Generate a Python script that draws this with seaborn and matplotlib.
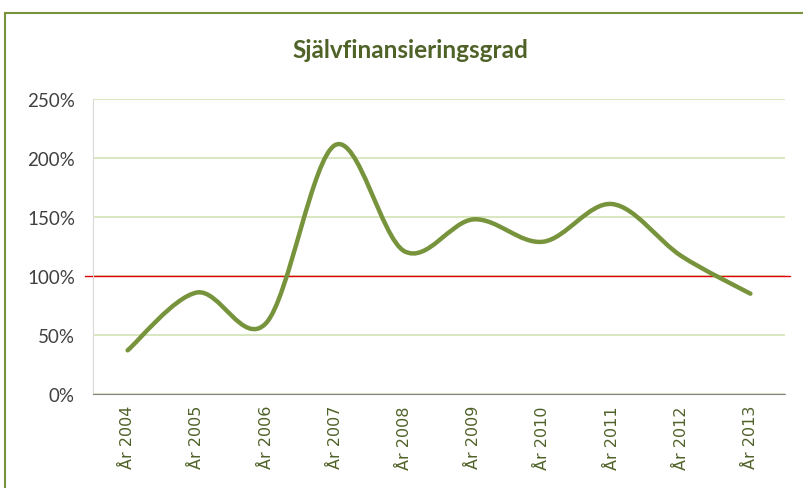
import numpy as np
import matplotlib
matplotlib.use("Agg")
import matplotlib.pyplot as plt
import seaborn as sns
from matplotlib.path import Path
from matplotlib.patches import PathPatch, Rectangle
from matplotlib.ticker import FuncFormatter, MultipleLocator

years = ["År 2004", "År 2005", "År 2006", "År 2007", "År 2008",
         "År 2009", "År 2010", "År 2011", "År 2012", "År 2013"]
grad = [0.37, 0.86, 0.60, 2.11, 1.21, 1.48, 1.29, 1.61, 1.17, 0.85]

sns.set_style("white")
plt.rcParams["font.family"] = ["Lato", "DejaVu Sans"]

green = "#77933C"
dark_green = "#4F6228"

fig = plt.figure(figsize=(8.04, 4.89), dpi=100)
ax = fig.add_axes([93 / 804, 1 - 395 / 489, 692 / 804, 295 / 489])

# Excel-style smoothed line (Catmull-Rom as cubic Bezier)
x = np.arange(len(grad), dtype=float)
y = np.array(grad)
px = np.concatenate([[x[0]], x, [x[-1]]])
py = np.concatenate([[y[0]], y, [y[-1]]])
verts = [(x[0], y[0])]
codes = [Path.MOVETO]
for i in range(1, len(px) - 2):
    c1 = (px[i] + (px[i + 1] - px[i - 1]) / 6, py[i] + (py[i + 1] - py[i - 1]) / 6)
    c2 = (px[i + 1] - (px[i + 2] - px[i]) / 6, py[i + 1] - (py[i + 2] - py[i]) / 6)
    verts += [c1, c2, (px[i + 1], py[i + 1])]
    codes += [Path.CURVE4] * 3
ax.add_patch(PathPatch(Path(verts, codes), fill=False, edgecolor=green,
                       lw=3.2, capstyle="round", joinstyle="round", zorder=3))

ax.set_xlim(-0.5, len(years) - 0.5)
ax.set_ylim(0, 2.5)
ax.yaxis.set_major_locator(MultipleLocator(0.5))
ax.yaxis.set_major_formatter(FuncFormatter(lambda v, p: f"{v * 100:.0f}%"))
ax.grid(axis="y", color="#D2E3B4", lw=1.2)
ax.set_axisbelow(True)
ax.axhline(1.0, xmin=-0.012, xmax=1.007, color="#E00000", lw=1, clip_on=False, zorder=2)

ax.set_xticks(x)
ax.set_xticklabels(years, rotation=90, color=dark_green, fontsize=11.5,
                   fontfamily="DejaVu Sans")
ax.set_xticks(np.arange(-0.5, len(years)), minor=True)
ax.tick_params(axis="x", which="major", length=0, pad=8)
ax.tick_params(axis="x", which="minor", length=6, color="#868686", width=1, direction="out")
ax.tick_params(axis="y", length=7, color="#D9D9D9", labelsize=13.5, labelcolor="#404040", pad=6)

for s in ["top", "right"]:
    ax.spines[s].set_visible(False)
ax.spines["left"].set_color("#D9D9D9")
ax.spines["bottom"].set_color("#868686")

fig.text(410 / 804, 1 - 50 / 489, "Självfinansieringsgrad", ha="center", va="center",
         fontsize=17.5, fontweight="bold", color=dark_green)

fig.patches.append(Rectangle((5.5 / 804, -0.1), 1.2, 1 - 13.5 / 489 + 0.1, fill=False,
                             edgecolor=green, lw=1.5, transform=fig.transFigure))

fig.savefig("out.png", dpi=100)
